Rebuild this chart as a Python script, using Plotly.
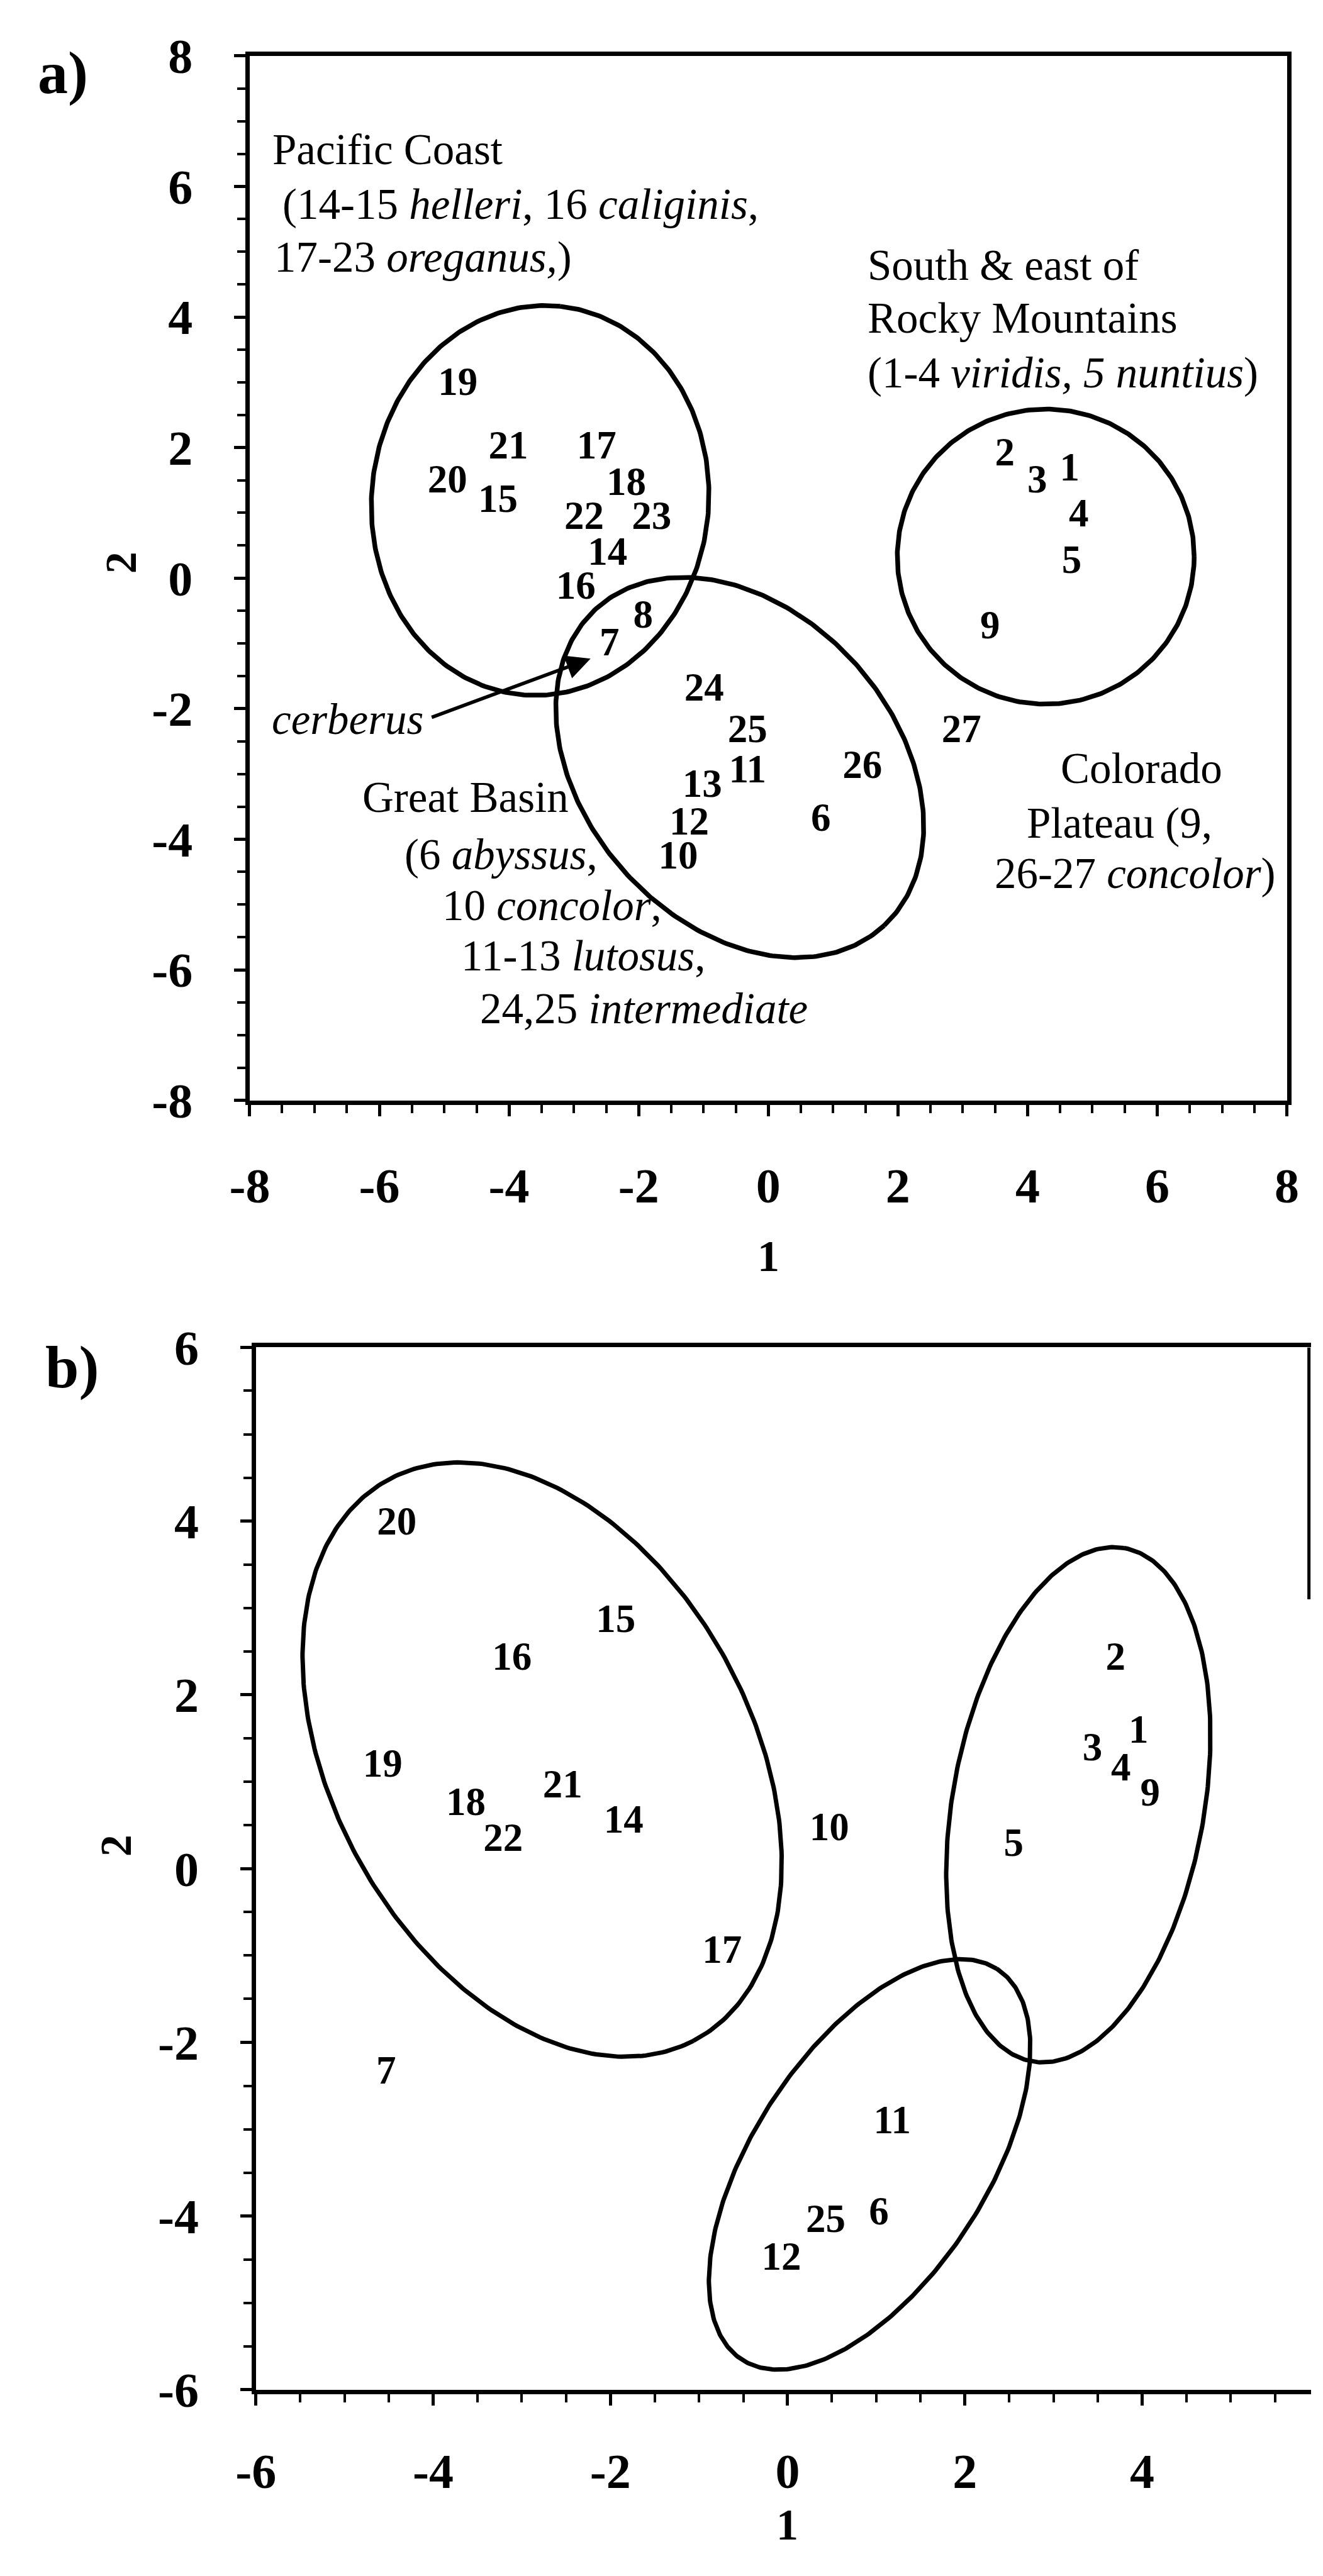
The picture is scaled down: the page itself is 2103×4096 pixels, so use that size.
import numpy as np
import plotly.graph_objects as go

# ---------------- Panel a data ----------------
a_ids = [str(i) for i in range(1, 28)]
a_x = [4.65, 3.65, 4.15, 4.79, 4.68, 0.81, -2.45, -1.93, 3.42, -1.39, -0.32, -1.22, -1.02, -2.48,
       -4.17, -2.97, -2.65, -2.19, -4.79, -4.95, -4.01, -2.84, -1.80, -0.99, -0.32, 1.45, 2.98]
a_y = [1.65, 1.88, 1.46, 0.94, 0.23, -3.72, -1.03, -0.61, -0.77, -4.30, -2.98, -3.78, -3.20, 0.36,
       1.17, -0.16, 1.98, 1.43, 2.96, 1.46, 1.98, 0.91, 0.91, -1.72, -2.36, -2.91, -2.36]

# group ellipses (centre x, centre y, semi-major, semi-minor, rotation deg): Pacific, SE Rocky, Great Basin
a_ell_cx = [-3.52, 4.28, -0.44]
a_ell_cy = [1.19, 0.33, -2.90]
a_ell_a = [2.99, 2.29, 3.29]
a_ell_b = [2.60, 2.26, 2.39]
a_ell_rot = [84.0, 0.0, -47.4]

# ---------------- Panel b data ----------------
b_ids = ["20", "15", "16", "19", "21", "18", "14", "22", "10", "17", "7",
         "2", "1", "3", "4", "9", "5", "11", "6", "25", "12"]
b_x = [-4.41, -1.94, -3.11, -4.57, -2.54, -3.63, -1.85, -3.21, 0.47, -0.74, -4.53,
       3.70, 3.96, 3.44, 3.76, 4.09, 2.55, 1.18, 1.03, 0.43, -0.07]
b_y = [3.96, 2.84, 2.40, 1.17, 0.93, 0.73, 0.53, 0.32, 0.44, -0.97, -2.36,
       2.40, 1.56, 1.36, 1.13, 0.84, 0.26, -2.93, -3.98, -4.07, -4.50]

b_ell_cx = [-2.77, 3.28, 0.925]
b_ell_cy = [1.255, 0.735, -3.405]
b_ell_a = [3.66, 3.00, 2.67]
b_ell_b = [2.37, 1.42, 1.32]
b_ell_rot = [-62.2, 80.1, 57.6]

a_ticks = [-8, -6, -4, -2, 0, 2, 4, 6, 8]
b_ticks = [-6, -4, -2, 0, 2, 4, 6]

SERIF = "Liberation Serif"
W, H = 2103, 4096


def ellipse(cx, cy, a, b, rot):
    t = np.linspace(0, 2 * np.pi, 400)
    th = np.deg2rad(rot)
    x = cx + a * np.cos(th) * np.cos(t) - b * np.sin(th) * np.sin(t)
    y = cy + a * np.sin(th) * np.cos(t) + b * np.cos(th) * np.sin(t)
    return x, y


fig = go.Figure()

for cx, cy, a, b, r in zip(a_ell_cx, a_ell_cy, a_ell_a, a_ell_b, a_ell_rot):
    ex, ey = ellipse(cx, cy, a, b, r)
    fig.add_trace(go.Scatter(x=ex, y=ey, mode="lines", line=dict(color="black", width=7.5),
                             xaxis="x", yaxis="y", showlegend=False, hoverinfo="skip"))

fig.add_trace(go.Scatter(x=a_x, y=a_y, mode="text", text=a_ids, xaxis="x", yaxis="y",
                         textposition="middle center",
                         textfont=dict(family=SERIF, size=63, color="black", weight="bold"),
                         showlegend=False))

for cx, cy, a, b, r in zip(b_ell_cx, b_ell_cy, b_ell_a, b_ell_b, b_ell_rot):
    ex, ey = ellipse(cx, cy, a, b, r)
    fig.add_trace(go.Scatter(x=ex, y=ey, mode="lines", line=dict(color="black", width=7),
                             xaxis="x2", yaxis="y2", showlegend=False, hoverinfo="skip"))

fig.add_trace(go.Scatter(x=b_x, y=b_y, mode="text", text=b_ids, xaxis="x2", yaxis="y2",
                         textposition="middle center",
                         textfont=dict(family=SERIF, size=63, color="black", weight="bold"),
                         showlegend=False))


def axis_cfg(rng, domain, anchor, vals, standoff, mirror=True):
    return dict(range=rng, domain=domain, anchor=anchor, showline=True, linecolor="black",
                linewidth=7, mirror=mirror, ticks="outside", ticklen=18, tickwidth=5,
                tickcolor="black", tickmode="array", tickvals=vals,
                ticktext=[str(v) for v in vals],
                tickfont=dict(family=SERIF, size=78, color="black", weight="bold"),
                ticklabelstandoff=standoff,
                minor=dict(ticks="outside", ticklen=13, tickwidth=4, tickcolor="black",
                           tickmode="linear", tick0=0, dtick=0.5, showgrid=False),
                showgrid=False, zeroline=False, fixedrange=True)


fig.update_layout(
    width=W, height=H, margin=dict(l=0, r=0, t=0, b=0),
    paper_bgcolor="white", plot_bgcolor="white", showlegend=False,
    xaxis=axis_cfg([-8, 8], [0.17784, 0.98127], "y", a_ticks, 44),
    yaxis=axis_cfg([-8, 8], [0.57427, 0.98857], "x", a_ticks, 50),
    xaxis2=axis_cfg([-6, 5.906], [0.18260, 1.0], "y2", b_ticks, 37),
    yaxis2=axis_cfg([-6, 6], [0.06287, 0.47632], "x2", b_ticks, 50, mirror=False),
)

ann = []
TF = dict(family=SERIF, size=69, color="black")


def txt(x, y, s, xanchor="left", xref="x", yref="y"):
    ann.append(dict(x=x, y=y, xref=xref, yref=yref, text=s, showarrow=False,
                    xanchor=xanchor, yanchor="middle", font=TF))


# Panel a group labels
txt(-7.665, 6.566, "Pacific Coast")
txt(-7.513, 5.726, "(14-15 <i>helleri</i>, 16 <i>caliginis</i>,")
txt(-7.644, 4.915, "17-23 <i>oreganus,</i>)")
txt(1.513, 4.792, "South &amp; east of")
txt(1.513, 3.981, "Rocky Mountains")
txt(1.513, 3.141, "(1-4 <i>viridis, 5 nuntius</i>)")
txt(-7.68, -2.166, "<i>cerberus</i>")
txt(-6.284, -3.361, "Great Basin")
txt(-5.629, -4.237, "(6 <i>abyssus</i>,")
txt(-5.047, -5.012, "10 <i>concolor</i>,")
txt(-4.756, -5.787, "11-13 <i>lutosus</i>,")
txt(-4.465, -6.598, "24,25 <i>intermediate</i>")
txt(5.753, -2.912, "Colorado", xanchor="center")
txt(5.418, -3.752, "Plateau (9,", xanchor="center")
txt(5.665, -4.527, "26-27 <i>concolor</i>)", xanchor="center")

# cerberus arrow
ann.append(dict(x=-2.742, y=-1.232, ax=-5.207, ay=-2.137, xref="x", yref="y", axref="x", ayref="y",
                text="", showarrow=True, arrowhead=2, arrowsize=1.4, arrowwidth=5.5,
                arrowcolor="black", standoff=0, startstandoff=0))

# axis titles and panel letters
AT = dict(family=SERIF, size=70, color="black", weight="bold")
ann.append(dict(x=0, y=0.5125, xref="x", yref="paper", text="1", showarrow=False,
                xanchor="center", yanchor="middle", font=AT))
ann.append(dict(x=0.0780, y=0.7874, xref="paper", yref="paper", text="2", showarrow=False,
                xanchor="center", yanchor="middle", font=AT, textangle=-90))
ann.append(dict(x=0, y=0.00928, xref="x2", yref="paper", text="1", showarrow=False,
                xanchor="center", yanchor="middle", font=AT))
ann.append(dict(x=0.0742, y=0.2786, xref="paper", yref="paper", text="2", showarrow=False,
                xanchor="center", yanchor="middle", font=AT, textangle=-90))
PL = dict(family=SERIF, size=96, color="black", weight="bold")
ann.append(dict(x=0.0333, y=0.98193, xref="paper", yref="paper", text="a)", showarrow=False,
                xanchor="center", yanchor="middle", font=PL))
ann.append(dict(x=0.0404, y=0.46851, xref="paper", yref="paper", text="b)", showarrow=False,
                xanchor="center", yanchor="middle", font=PL))

fig.update_layout(annotations=ann)

# partial right border of panel b (cut off in the original scan)
fig.add_shape(type="line", xref="x2 domain", yref="y2", x0=0.998, x1=0.998, y0=6, y1=3.1,
              line=dict(color="black", width=5))

fig.write_html("out.html")
